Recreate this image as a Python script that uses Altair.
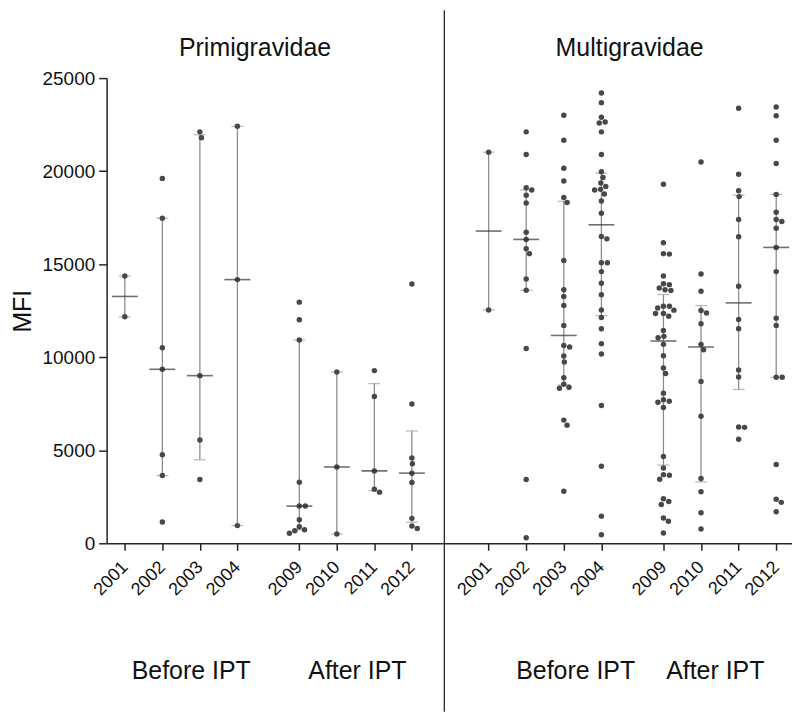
import math
import altair as alt
import numpy as np
import pandas as pd

# ---------------- data (MFI values) ----------------
years = [2001, 2002, 2003, 2004, 2009, 2010, 2011, 2012]
year_pos = [0, 1, 2, 3, 4.65, 5.65, 6.65, 7.65]
panels = ["Primigravidae", "Multigravidae"]
periods = ["Before IPT", "After IPT"]

primi_2001 = [14360, 12170]
primi_2002 = [19610, 17470, 10510, 9350, 4760, 3640, 1140]
primi_2003 = [22110, 21800, 9010, 5550, 3430]
primi_2004 = [22410, 14170, 950]
primi_2009 = [12960, 12010, 10920, 3280, 2000, 2000, 1270, 890, 730, 680, 540]
primi_2010 = [9210, 4100, 500]
primi_2011 = [9280, 7890, 3890, 2910, 2750]
primi_2012 = [13930, 7490, 4590, 4270, 3770, 3270, 1340, 930, 790]

multi_2001 = [21020, 12540]
multi_2002 = [22110, 20890, 19110, 18990, 18700, 18290, 16720, 16330, 15830,
              15560, 14200, 13600, 10470, 3430, 300]
multi_2003 = [23000, 21660, 20150, 19470, 18580, 18310, 15200, 13630, 13260,
              12780, 11710, 10630, 10550, 10060, 9740, 8900, 8550, 8390, 8330,
              6620, 6350, 2800]
multi_2004 = [24200, 23680, 22890, 22640, 22590, 22110, 20890, 19970, 19660,
              19360, 19180, 19020, 18990, 18770, 18400, 17740, 16490, 16360,
              15080, 15080, 14600, 13970, 13360, 12540, 12130, 11530, 10730,
              10170, 7410, 4140, 1460, 460]
multi_2009 = [19290, 16150, 15560, 15540, 14360, 13950, 13900, 13720, 13630,
              13580, 12740, 12740, 12650, 12530, 12350, 12350, 12200, 11440,
              11120, 11050, 10690, 10080, 9420, 9120, 8070, 7710, 7640, 7580,
              7300, 4660, 4050, 3690, 3660, 3440, 2390, 2250, 2090, 1360, 1180,
              550]
multi_2010 = [20490, 14470, 13540, 12510, 12380, 11800, 10690, 10400, 8690,
              6830, 3480, 2770, 1640, 770]
multi_2011 = [23380, 19830, 18950, 18630, 17400, 16470, 13810, 12030, 11530,
              9310, 8940, 6250, 6230, 5590]
multi_2012 = [23450, 22980, 21660, 20410, 18750, 17790, 17400, 17290, 16930,
              15900, 14600, 12100, 11710, 8920, 8920, 4230, 2370, 2200, 1700]

groups = {
    "Primigravidae": [primi_2001, primi_2002, primi_2003, primi_2004,
                      primi_2009, primi_2010, primi_2011, primi_2012],
    "Multigravidae": [multi_2001, multi_2002, multi_2003, multi_2004,
                      multi_2009, multi_2010, multi_2011, multi_2012],
}

# ---------------- layout helpers ----------------
PLOT_H = 467
Y_MAX = 25000
PX_PER_UNIT_X = 37.7
DOT_D = 6.0


def swarm(values):
    """Simple beeswarm: horizontal pixel offsets so dots do not overlap."""
    ppu = PLOT_H / Y_MAX
    ys = [v * ppu for v in values]
    order = sorted(range(len(values)), key=lambda i: -values[i])
    placed, xs = [], [0.0] * len(values)
    for i in order:
        y = ys[i]
        cands = [0.0]
        for px, py in placed:
            dy = abs(py - y)
            if dy < DOT_D:
                dx = math.sqrt(DOT_D ** 2 - dy ** 2)
                cands += [px + dx, px - dx]
        valid = [c for c in cands
                 if all((c - px) ** 2 + (y - py) ** 2 >= DOT_D ** 2 - 1e-6
                        for px, py in placed)]
        best = min(valid, key=lambda c: (round(abs(c), 6), -c))
        xs[i] = best
        placed.append((best, y))
    return xs


rows, stats = [], []
for pname, lists in groups.items():
    for yr, pos, vals in zip(years, year_pos, lists):
        offs = swarm(vals)
        for v, o in zip(vals, offs):
            rows.append({"panel": pname, "year": yr, "pos": pos, "value": v,
                         "xj": pos + o / PX_PER_UNIT_X})
        arr = np.array(vals, dtype=float)
        stats.append({"panel": pname, "year": yr, "pos": pos,
                      "median": float(np.median(arr)),
                      "q1": float(np.percentile(arr, 25, method="weibull")),
                      "q3": float(np.percentile(arr, 75, method="weibull"))})
df = pd.DataFrame(rows)
st = pd.DataFrame(stats)

# label expression: position -> year
expr = "''"
for yr, pos in reversed(list(zip(years, year_pos))):
    expr = f"abs(datum.value - {pos}) < 0.01 ? '{yr}' : ({expr})"

FONT = "Liberation Sans"
DOT_COLOR = "#484848"
WHISKER = "#8e8e8e"
CAP = "#9e9e9e"
MEDIAN = "#333333"
LINE = "#262626"


def panel(name, domain, width, title_x, before_x, after_x, show_y):
    d = df[df.panel == name]
    s = st[st.panel == name]
    xscale = alt.Scale(domain=domain, nice=False, zero=False)
    yscale = alt.Scale(domain=[0, Y_MAX], nice=False)
    xaxis = alt.Axis(values=year_pos, labelExpr=expr, labelAngle=-45,
                     labelAlign="right", labelBaseline="middle",
                     labelFontSize=18, labelPadding=14, tickSize=7, title=None,
                     labelOverlap=False, labelBound=False, grid=False)
    if show_y:
        yaxis = alt.Axis(values=list(range(0, 25001, 5000)), format="d",
                         title="MFI", titleFontSize=25, titleFontWeight="normal",
                         titleFont=FONT, titleColor="#111",
                         labelFontSize=19, labelPadding=4, tickSize=8,
                         labelOverlap=False, titlePadding=7, grid=False)
    else:
        yaxis = None

    def X(field):
        return alt.X(field, type="quantitative", scale=xscale, axis=xaxis)

    def Y(field):
        return alt.Y(field, type="quantitative", scale=yscale, axis=yaxis)

    whisk = alt.Chart(s).mark_rule(color=WHISKER, strokeWidth=1.3).encode(
        x=X("pos"), y=Y("q1"), y2="q3:Q")
    cap1 = alt.Chart(s).mark_tick(orient="horizontal", size=12, thickness=1.3,
                                  color=CAP).encode(x=X("pos"), y=Y("q1"))
    cap2 = alt.Chart(s).mark_tick(orient="horizontal", size=12, thickness=1.3,
                                  color=CAP).encode(x=X("pos"), y=Y("q3"))
    pts = alt.Chart(d).mark_circle(size=30, color=DOT_COLOR, opacity=1).encode(
        x=X("xj"), y=Y("value"))
    med = alt.Chart(s).mark_tick(orient="horizontal", size=26, thickness=1.6,
                                 color=MEDIAN).encode(x=X("pos"), y=Y("median"))

    title = alt.Chart(pd.DataFrame({"t": [name]})).mark_text(
        fontSize=25, font=FONT, color="#111", align="center",
        baseline="alphabetic").encode(
        text="t:N", x=alt.value(title_x), y=alt.value(-22.5))
    per = alt.Chart(pd.DataFrame({"t": periods, "px": [before_x, after_x]})).mark_text(
        fontSize=25, font=FONT, color="#111", align="center",
        baseline="alphabetic").encode(
        text="t:N", x=X("px"), y=alt.value(603))
    # vertical separator (visible only at the left edge of the second panel;
    # an invisible copy keeps both panels' vertical extents equal)
    sep = alt.Chart(pd.DataFrame({"a": [0]})).mark_rule(
        color=LINE, strokeWidth=1.3, strokeOpacity=0 if show_y else 1).encode(
        x=alt.value(0), y=alt.value(-68), y2=alt.value(636))

    return alt.layer(whisk, cap1, cap2, pts, med, title, per, sep).properties(
        width=width, height=PLOT_H)


primi = panel("Primigravidae", [-0.485, 8.488], 338, 149,
              (190 - 123.3) / PX_PER_UNIT_X, (357 - 123.3) / PX_PER_UNIT_X, True)
multi = panel("Multigravidae", [-1.178, 8.07], 349, 186,
              (575 - 487.7) / PX_PER_UNIT_X, (715 - 487.7) / PX_PER_UNIT_X, False)

chart = alt.hconcat(primi, multi, spacing=0).properties(
    padding={"left": 2, "top": 0, "right": 0, "bottom": 0}
).configure_view(stroke=None).configure_axis(
    domainColor=LINE, domainWidth=1.5, tickColor=LINE, tickWidth=1.5,
    labelFont=FONT, labelColor="#111", titleFont=FONT,
)

chart.save("out.html", embed_options={"renderer": "svg", "actions": False})
